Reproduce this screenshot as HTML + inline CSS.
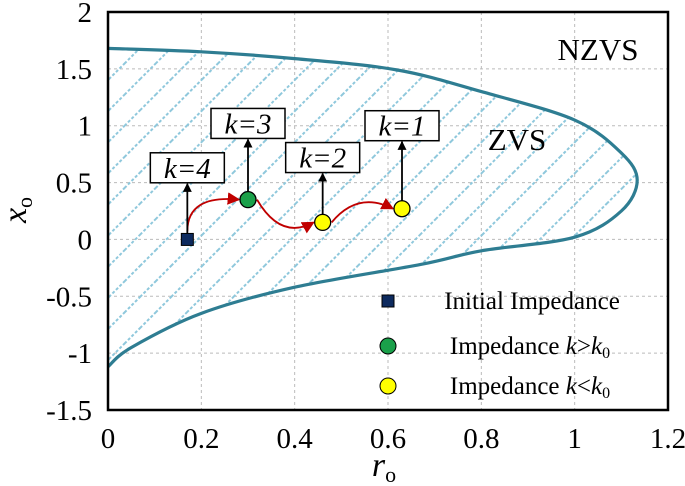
<!DOCTYPE html>
<html><head><meta charset="utf-8"><style>
body{margin:0;background:#fff;}
svg{display:block;}
svg text{font-family:"Liberation Serif","Times New Roman",serif;}
</style></head><body>
<svg id="c" width="685" height="486" viewBox="0 0 685 486">
<defs>
<pattern id="hatch" patternUnits="userSpaceOnUse" width="22" height="22" patternTransform="rotate(45)">
<line x1="0" y1="0" x2="0" y2="22" stroke="#8fc8dc" stroke-width="4" stroke-dasharray="3 2"/>
</pattern>
<marker id="ah" viewBox="0 0 10 10" refX="9" refY="5" markerWidth="7" markerHeight="7" orient="auto"><path d="M0,0L10,5L0,10z" fill="#c00000"/></marker>
<marker id="bh" viewBox="0 0 10 10" refX="9" refY="5" markerWidth="5" markerHeight="6" orient="auto"><path d="M0,0L10,5L0,10z" fill="#000"/></marker>
</defs>
<g id="grid"></g>
<g id="region"></g>
<g id="marks"></g>
<rect x="108" y="12" width="560" height="398" fill="none" stroke="#000" stroke-width="2.5"/>
<g id="axes"></g>
<text x="598" y="60" style="font-size:31px" text-anchor="middle">NZVS</text>
<text x="517" y="150" style="font-size:31px" text-anchor="middle">ZVS</text>
<text x="384" y="476" style="font-size:34px;font-style:italic" text-anchor="middle">r<tspan style="font-size:22px;font-style:normal" dy="6">o</tspan></text>
<text transform="translate(26,210) rotate(-90)" style="font-size:34px;font-style:italic" text-anchor="middle">x<tspan style="font-size:22px;font-style:normal" dy="6">o</tspan></text>
<g>
<rect x="382" y="295" width="12" height="12" fill="#0d2a5e" stroke="#000"/>
<text x="532" y="309" style="font-size:25px" text-anchor="middle">Initial Impedance</text>
<circle cx="388" cy="346" r="8" fill="#1aa04a" stroke="#000"/>
<text x="530" y="354" style="font-size:25px" text-anchor="middle">Impedance <tspan style="font-style:italic">k</tspan>&gt;<tspan style="font-style:italic">k</tspan><tspan style="font-size:16px" dy="4">0</tspan></text>
<circle cx="388" cy="386" r="8" fill="#ffff00" stroke="#000"/>
<text x="530" y="394" style="font-size:25px" text-anchor="middle">Impedance <tspan style="font-style:italic">k</tspan>&lt;<tspan style="font-style:italic">k</tspan><tspan style="font-size:16px" dy="4">0</tspan></text>
</g>
</svg>
<script>
const xTicks=[0,0.2,0.4,0.6,0.8,1,1.2];
const xTickLabels=["0","0.2","0.4","0.6","0.8","1","1.2"];
const yTicks=[2,1.5,1,0.5,0,-0.5,-1,-1.5];
const yTickLabels=["2","1.5","1","0.5","0","-0.5","-1","-1.5"];
const upperR=[0,0.2,0.4,0.62,0.8,1.0,1.1,1.134];
const upperX=[1.68,1.65,1.59,1.49,1.30,1.05,0.76,0.52];
const lowerR=[1.134,1.1,1.0,0.8,0.67,0.4,0.2,0.05,0];
const lowerX=[0.52,0.25,0.02,-0.1,-0.22,-0.42,-0.65,-0.95,-1.12];
const pointR=[0.17,0.30,0.46,0.63];
const pointX=[0,0.35,0.15,0.27];
const pointKind=["initial","green","yellow","yellow"];
const labelText=["k=4","k=3","k=2","k=1"];
const labelY=[0.63,1.02,0.72,1.0];

const X=v=>108+v*(560/1.2), Y=v=>12+(2-v)*(398/3.5);
const NS="http://www.w3.org/2000/svg";
function mk(t,a,p){const e=document.createElementNS(NS,t);for(const k in a)e.setAttribute(k,a[k]);p.appendChild(e);return e;}
const grid=document.getElementById('grid'),axes=document.getElementById('axes'),region=document.getElementById('region'),marks=document.getElementById('marks');
xTicks.forEach((v,i)=>{
  if(i>0&&i<xTicks.length-1){const l=mk('line',{x1:X(v),x2:X(v),y1:12,y2:410,stroke:'#bbb','stroke-dasharray':'3 3'},grid);
  
  }
  const t=mk('text',{x:X(v),y:448,style:'font-size:29px','text-anchor':'middle'},axes);t.textContent=xTickLabels[i];
  
  
});
yTicks.forEach((v,i)=>{
  if(i>0&&i<yTicks.length-1){const l=mk('line',{x1:108,x2:668,y1:Y(v),y2:Y(v),stroke:'#bbb','stroke-dasharray':'3 3'},grid);
  
  }
  const t=mk('text',{x:92,y:Y(v)+10,style:'font-size:29px','text-anchor':'end'},axes);t.textContent=yTickLabels[i];
  
  
});
function smooth(pts){let d=`M${pts[0][0]},${pts[0][1]}`;for(let i=0;i<pts.length-1;i++){const p0=pts[i-1]||pts[i],p1=pts[i],p2=pts[i+1],p3=pts[i+2]||p2;
d+=`C${p1[0]+(p2[0]-p0[0])/6},${p1[1]+(p2[1]-p0[1])/6} ${p2[0]-(p3[0]-p1[0])/6},${p2[1]-(p3[1]-p1[1])/6} ${p2[0]},${p2[1]}`;}return d;}
const pts=upperR.map((r,i)=>[X(r),Y(upperX[i])]).concat(lowerR.slice(1).map((r,i)=>[X(r),Y(lowerX[i+1])]));
const d=smooth(pts);
const fill=mk('path',{d:d+'Z',fill:'url(#hatch)',stroke:'none'},region);


const bd=mk('path',{d:d,fill:'none',stroke:'#2e7d92','stroke-width':3.2},region);


for(let i=0;i<pointR.length-1;i++){
  const x1=X(pointR[i]),y1=Y(pointX[i])-(i==0?8:0),x2=X(pointR[i+1])-9,y2=Y(pointX[i+1]);
  const up=pointX[i+1]>pointX[i];
  const cx=(x1+x2)/2,cy=up?Math.min(y1,y2)-18:Math.max(y1,y2)+18;
  const a=mk('path',{d:`M${x1+(i?9:0)},${y1}Q${i==0?x1:cx},${up&&i==0?y2-5:cy} ${x2},${y2}`,fill:'none',stroke:'#c00000','stroke-width':1.8,'marker-end':'url(#ah)'},marks);
  
  
}
pointR.forEach((r,i)=>{
  const x=X(r),y=Y(pointX[i]),ly=Y(labelY[i]);
  const ar=mk('line',{x1:x,x2:x,y1:y,y2:ly+16,stroke:'#000','stroke-width':1.8,'marker-end':'url(#bh)'},marks);
  
  
  const b=mk('rect',{x:x-37,y:ly-15,width:74,height:30,fill:'#fff',stroke:'#000','stroke-width':1.5},marks);
  
  
  const t=mk('text',{x:x,y:ly+10,style:'font-size:29px;font-style:italic','text-anchor':'middle'},marks);t.textContent=labelText[i];
  
  
  let m;
  if(pointKind[i]=='initial')m=mk('rect',{x:x-6,y:y-6,width:12,height:12,fill:'#0d2a5e',stroke:'#000'},marks);
  else m=mk('circle',{cx:x,cy:y,r:8,fill:pointKind[i]=='green'?'#1aa04a':'#ffff00',stroke:'#000','stroke-width':1.3},marks);
  
  
});
</script>
</body></html>
